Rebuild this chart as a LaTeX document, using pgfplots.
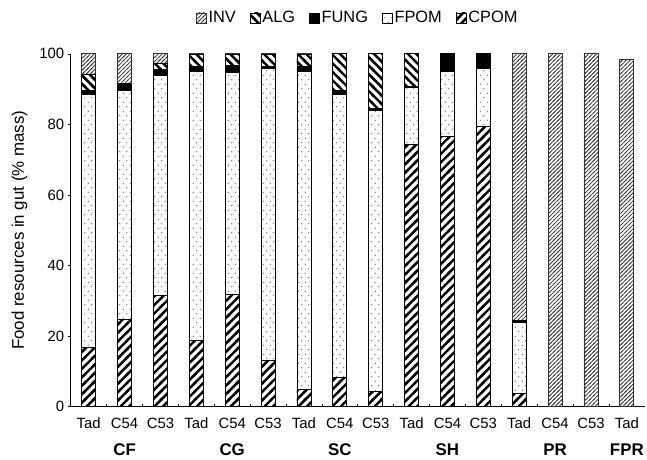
\documentclass[border=0pt]{standalone}
\usepackage{fontspec}
\setmainfont{Liberation Sans}
\usepackage{pgfplots}
\usepackage{pgfplotstable}
\pgfplotsset{compat=1.18}
\usetikzlibrary{patterns}

\pgfdeclarepatternformonly{cpomlines}{\pgfpoint{-2bp}{-2bp}}{\pgfpoint{10.5bp}{10.5bp}}{\pgfpoint{8.5bp}{8.5bp}}{%
  \pgfsetlinewidth{2.4bp}%
  \pgfpathmoveto{\pgfpoint{-2bp}{-2bp}}\pgfpathlineto{\pgfpoint{10.5bp}{10.5bp}}%
  \pgfusepath{stroke}}
\pgfdeclarepatternformonly{alglines}{\pgfpoint{-2bp}{-2bp}}{\pgfpoint{10.5bp}{10.5bp}}{\pgfpoint{8.5bp}{8.5bp}}{%
  \pgfsetlinewidth{2.4bp}%
  \pgfpathmoveto{\pgfpoint{-2bp}{10.5bp}}\pgfpathlineto{\pgfpoint{10.5bp}{-2bp}}%
  \pgfusepath{stroke}}
\pgfdeclarepatternformonly{invlines}{\pgfpoint{-1bp}{-1bp}}{\pgfpoint{5bp}{5bp}}{\pgfpoint{4bp}{4bp}}{%
  \pgfsetlinewidth{0.8bp}%
  \pgfpathmoveto{\pgfpoint{-1bp}{-1bp}}\pgfpathlineto{\pgfpoint{5bp}{5bp}}%
  \pgfusepath{stroke}}
\pgfdeclarepatternformonly{fpomdots}{\pgfpoint{0bp}{0bp}}{\pgfpoint{7bp}{9bp}}{\pgfpoint{7bp}{9bp}}{%
  \pgfpathcircle{\pgfpoint{1.75bp}{2.25bp}}{0.65bp}%
  \pgfpathcircle{\pgfpoint{5.25bp}{6.75bp}}{0.65bp}%
  \pgfusepath{fill}}

\pgfplotstableread{
x CPOM FPOM FUNG ALG INV
0 16.8 71.6 1.2 4.7 5.7
1 24.8 64.9 1.6 0.4 8.3
2 31.4 62.6 1.6 1.7 2.7
3 18.7 76.3 1.3 3.5 0.2
4 31.8 63.0 1.9 3.1 0.2
5 13.1 82.7 0.6 3.4 0.2
6 4.9 90.1 1.3 3.4 0.3
7 8.3 80.3 1.0 10.4 0
8 4.2 79.8 0.6 15.4 0
9 74.3 16.2 0.3 9.2 0
10 76.6 18.4 5.0 0 0
11 79.3 16.7 4.0 0 0
12 3.7 20.1 0.7 0 75.5
13 0 0 0 0 100
14 0 0 0 0 100
15 0 0 0 0 98.5
}\gut

\begin{document}
\begin{tikzpicture}
\begin{axis}[
  scale only axis,
  width=576bp, height=354bp,
  ybar stacked,
  bar width=14bp,
  xmin=-0.5, xmax=15.5,
  ymin=0, ymax=100,
  axis x line*=bottom,
  axis y line*=left,
  axis line style={black, line width=0.9pt},
  xtick={0,...,15},
  xticklabels={Tad,C54,C53,Tad,C54,C53,Tad,C54,C53,Tad,C54,C53,Tad,C54,C53,Tad},
  extra x ticks={1,4,7,10,13,15},
  extra x tick labels={CF,CG,SC,SH,PR,FPR},
  extra x tick style={xticklabel style={font=\fontsize{17}{20}\selectfont\bfseries, yshift=-26bp}},
  major x tick style={draw=none},
  minor xtick={0.5,1.5,...,14.5},
  minor x tick style={draw=black, line width=0.6pt},
  minor tick length=3bp,
  xtick align=inside,
  ytick={0,20,...,100},
  ytick align=outside,
  major tick length=3bp,
  y tick style={black, line width=0.6pt},
  /pgf/number format/assume math mode=true,
  tick label style={font=\fontsize{15}{18}\selectfont, black},
  xticklabel style={yshift=-8bp},
  ylabel={Food resources in gut (\% mass)},
  ylabel style={at={(axis description cs:-0.0894,0.5)}, anchor=center, font=\fontsize{17}{20}\selectfont},
  legend columns=-1,
  reverse legend,
  legend style={draw=none, fill=none, at={(0.5,1.1017)}, anchor=center, font=\fontsize{16.5}{19}\selectfont,
    /tikz/every even column/.append style={column sep=12bp}},
  sq/.style={legend image code/.code={\draw[##1,line width=0.6pt] (0bp,-5bp) rectangle (10bp,5bp);}},
]
\addplot[sq, draw=black, line width=0.8pt, pattern=cpomlines, pattern color=black] table[x=x,y=CPOM]{\gut};
\addplot[sq, draw=black, line width=0.8pt, pattern=fpomdots, pattern color=black!65] table[x=x,y=FPOM]{\gut};
\addplot[sq, draw=black, line width=0.8pt, fill=black] table[x=x,y=FUNG]{\gut};
\addplot[sq, draw=black, line width=0.8pt, pattern=alglines, pattern color=black] table[x=x,y=ALG]{\gut};
\addplot[sq, draw=black!80, line width=0.8pt, pattern=invlines, pattern color=black!75] table[x=x,y=INV]{\gut};
\legend{CPOM,FPOM,FUNG,ALG,INV}
\end{axis}
\path ([xshift=-71bp,yshift=54bp]current axis.north west);
\path ([yshift=-46bp]current axis.south east);
\end{tikzpicture}
\end{document}
